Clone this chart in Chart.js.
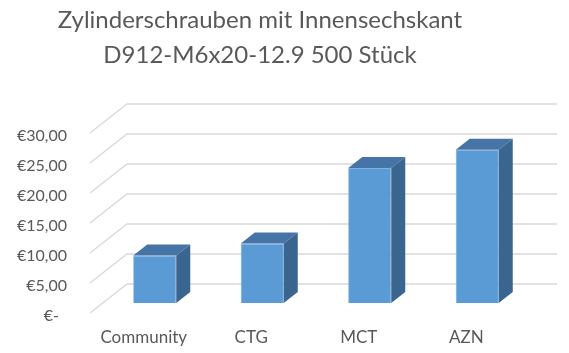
<!DOCTYPE html>
<html>
<head>
<meta charset="utf-8">
<script src="https://cdn.jsdelivr.net/npm/chart.js@4"></script>
<style>
  html, body { margin: 0; padding: 0; background: #ffffff; }
  #wrap { width: 569px; height: 353px; }
</style>
</head>
<body>
<div id="wrap"><canvas id="c" width="569" height="353"></canvas></div>
<script>
const categories = ['Community', 'CTG', 'MCT', 'AZN'];
const prices = [7.9, 9.9, 22.5, 25.55];
const yTickLabels = ['€-\u2002', '€5,00', '€10,00', '€15,00', '€20,00', '€25,00', '€30,00'];
const titleLines = ['Zylinderschrauben mit Innensechskant', 'D912-M6x20-12.9 500 Stück'];

const DEPTH = { dx: 37, dy: -29 };      // floor / wall depth
const BAR_SHIFT = { dx: 11, dy: -10 };  // bar front plane offset
const BAR_DEPTH = { dx: 14, dy: -11 };  // bar thickness

const threeD = {
  id: 'threeD',
  beforeDatasetsDraw(chart) {
    const { ctx, chartArea, scales } = chart;
    const y = scales.y;
    ctx.save();
    ctx.strokeStyle = '#d9d9d9';
    ctx.lineWidth = 1.3;
    y.ticks.forEach(t => {
      const py = y.getPixelForValue(t.value);
      ctx.beginPath();
      ctx.moveTo(chartArea.left, py);
      ctx.lineTo(chartArea.left + DEPTH.dx, py + DEPTH.dy);
      ctx.lineTo(chartArea.right + DEPTH.dx, py + DEPTH.dy);
      ctx.stroke();
    });
    ctx.restore();
    ctx.save();
    ctx.translate(BAR_SHIFT.dx, BAR_SHIFT.dy);
  },
  afterDatasetsDraw(chart) {
    const { ctx } = chart;
    const meta = chart.getDatasetMeta(0);
    meta.data.forEach(bar => {
      const p = bar.getProps(['x', 'y', 'base', 'width'], true);
      const l = p.x - p.width / 2, r = p.x + p.width / 2;
      const t = p.y, b = p.base;
      ctx.fillStyle = '#4674a6';
      ctx.beginPath();
      ctx.moveTo(l, t);
      ctx.lineTo(l + BAR_DEPTH.dx, t + BAR_DEPTH.dy);
      ctx.lineTo(r + BAR_DEPTH.dx, t + BAR_DEPTH.dy);
      ctx.lineTo(r, t);
      ctx.closePath();
      ctx.fill();
      ctx.fillStyle = '#3a658f';
      ctx.beginPath();
      ctx.moveTo(r, t);
      ctx.lineTo(r + BAR_DEPTH.dx, t + BAR_DEPTH.dy);
      ctx.lineTo(r + BAR_DEPTH.dx, b + BAR_DEPTH.dy);
      ctx.lineTo(r, b);
      ctx.closePath();
      ctx.fill();
    });
    ctx.restore();
  }
};

new Chart(document.getElementById('c'), {
  type: 'bar',
  data: {
    labels: categories,
    datasets: [{
      data: prices,
      backgroundColor: '#5b9bd5',
      borderColor: '#6aa6dc',
      borderWidth: 0.8,
      categoryPercentage: 1.0,
      barPercentage: 0.4
    }]
  },
  options: {
    responsive: false,
    animation: false,
    devicePixelRatio: 1,
    layout: { padding: { left: 0, right: 49, top: 0, bottom: 0 } },
    plugins: {
      legend: { display: false },
      tooltip: { enabled: false },
      title: {
        display: true,
        text: titleLines,
        color: '#595959',
        font: { family: 'Lato', size: 24, weight: 'normal', lineHeight: 35 / 24 },
        padding: { top: 3, bottom: 60 }
      }
    },
    scales: {
      x: {
        grid: { display: false },
        border: { display: false },
        ticks: { color: '#595959', font: { family: 'Lato', size: 17 }, padding: 6, maxRotation: 0 },
        afterFit(s) { s.height = 40; }
      },
      y: {
        min: 0, max: 30,
        grid: { display: false, drawTicks: false },
        border: { display: false },
        ticks: {
          stepSize: 5,
          color: '#595959',
          font: { family: 'Lato', size: 16 },
          padding: 23,
          labelOffset: 2.5,
          callback: (v, i) => yTickLabels[i]
        },
        afterFit(s) { s.width = 90; }
      }
    }
  },
  plugins: [threeD]
});
</script>
</body>
</html>
